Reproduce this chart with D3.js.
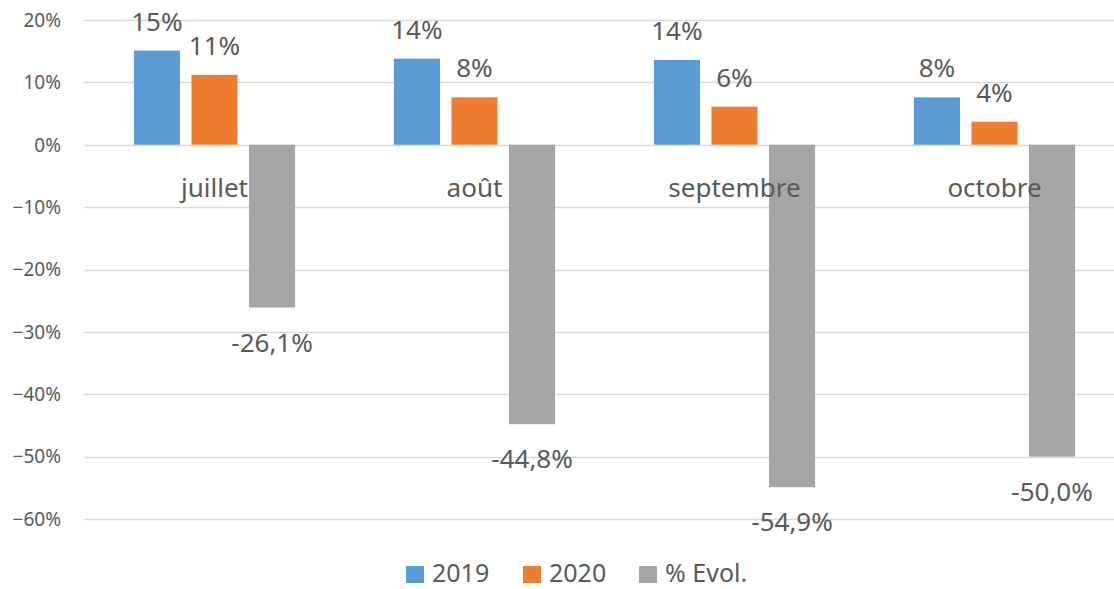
<!DOCTYPE html>
<html>
<head>
<meta charset="utf-8">
<script src="https://cdn.jsdelivr.net/npm/d3@7"></script>
<style>
  body { margin: 0; background: #fff; }
  text { font-family: "Noto Sans", "Liberation Sans", sans-serif; fill: #595959; }
</style>
</head>
<body>
<svg id="chart" width="1114" height="589"></svg>
<script>
// chart data
var months = ["juillet", "août", "septembre", "octobre"]
var seriesNames = ["2019", "2020", "% Evol."]
var values2019 = [0.151, 0.138, 0.136, 0.076]
var values2020 = [0.112, 0.076, 0.061, 0.037]
var valuesEvol = [-0.261, -0.448, -0.549, -0.500]
var yTicks = [0.2, 0.1, 0, -0.1, -0.2, -0.3, -0.4, -0.5, -0.6]

var colors = ["#5B9BD5", "#ED7D31", "#A5A5A5"]

var svg = d3.select("#chart")

// build rows for the bars
var rows = []
months.forEach(function (m, i) {
  rows.push({ month: m, series: 0, v: values2019[i] })
  rows.push({ month: m, series: 1, v: values2020[i] })
  rows.push({ month: m, series: 2, v: valuesEvol[i] })
})

var x = d3.scaleBand()
  .domain(months)
  .range([84.5, 1124.5])
  .paddingInner(0.38)
  .paddingOuter(0.19)

var x1 = d3.scaleBand()
  .domain([0, 1, 2])
  .range([0, x.bandwidth()])
  .paddingInner(0.2)

var y = d3.scaleLinear()
  .domain([-0.6, 0.2])
  .range([519, 20])

var pct = d3.format(".0%")
var frLocale = d3.formatLocale({ decimal: ",", thousands: " ", grouping: [3], currency: ["", " €"], minus: "-" })
var pct1 = frLocale.format(".1%")

// gridlines + y labels
svg.append("g")
  .selectAll("line")
  .data(yTicks)
  .enter()
  .append("line")
    .attr("x1", 84)
    .attr("x2", 1114)
    .attr("y1", function (d) { return Math.round(y(d)) + 0.5 })
    .attr("y2", function (d) { return Math.round(y(d)) + 0.5 })
    .style("stroke", "#D9D9D9")
    .style("stroke-width", 1.5)

svg.append("g")
  .selectAll("text")
  .data(yTicks)
  .enter()
  .append("text")
    .attr("x", 61)
    .attr("y", function (d) { return y(d) })
    .attr("dy", "0.36em")
    .attr("text-anchor", "end")
    .style("font-size", "19px")
    .text(function (d) { return pct(d) })

// bars
svg.append("g")
  .selectAll("rect")
  .data(rows)
  .enter()
  .append("rect")
    .attr("x", function (d) { return x(d.month) + x1(d.series) })
    .attr("width", x1.bandwidth())
    .attr("y", function (d) { return y(Math.max(0, d.v)) })
    .attr("height", function (d) { return Math.abs(y(d.v) - y(0)) })
    .style("fill", function (d) { return colors[d.series] })

// category labels (drawn over the bars, like the original)
svg.append("g")
  .selectAll("text")
  .data(months)
  .enter()
  .append("text")
    .attr("x", function (d) { return x(d) + x.bandwidth() / 2 })
    .attr("y", y(0) + 52)
    .attr("text-anchor", "middle")
    .style("font-size", "26px")
    .text(function (d) { return d })

// data labels
svg.append("g")
  .selectAll("text")
  .data(rows)
  .enter()
  .append("text")
    .attr("x", function (d) { return x(d.month) + x1(d.series) + x1.bandwidth() / 2 })
    .attr("y", function (d) { return d.v >= 0 ? y(d.v) - 20 : y(d.v) + 44 })
    .attr("text-anchor", "middle")
    .style("font-size", "26px")
    .text(function (d) { return d.series == 2 ? pct1(d.v) : pct(d.v) })

// legend
var legendX = [406, 523, 639]
var legend = svg.append("g")
  .selectAll("g")
  .data(seriesNames)
  .enter()
  .append("g")
    .attr("transform", function (d, i) { return "translate(" + legendX[i] + ",0)" })

legend.append("rect")
  .attr("x", 0)
  .attr("y", 566)
  .attr("width", 18)
  .attr("height", 17)
  .style("fill", function (d, i) { return colors[i] })

legend.append("text")
  .attr("x", 26)
  .attr("y", 582)
  .style("font-size", "25px")
  .text(function (d) { return d })
</script>
</body>
</html>
